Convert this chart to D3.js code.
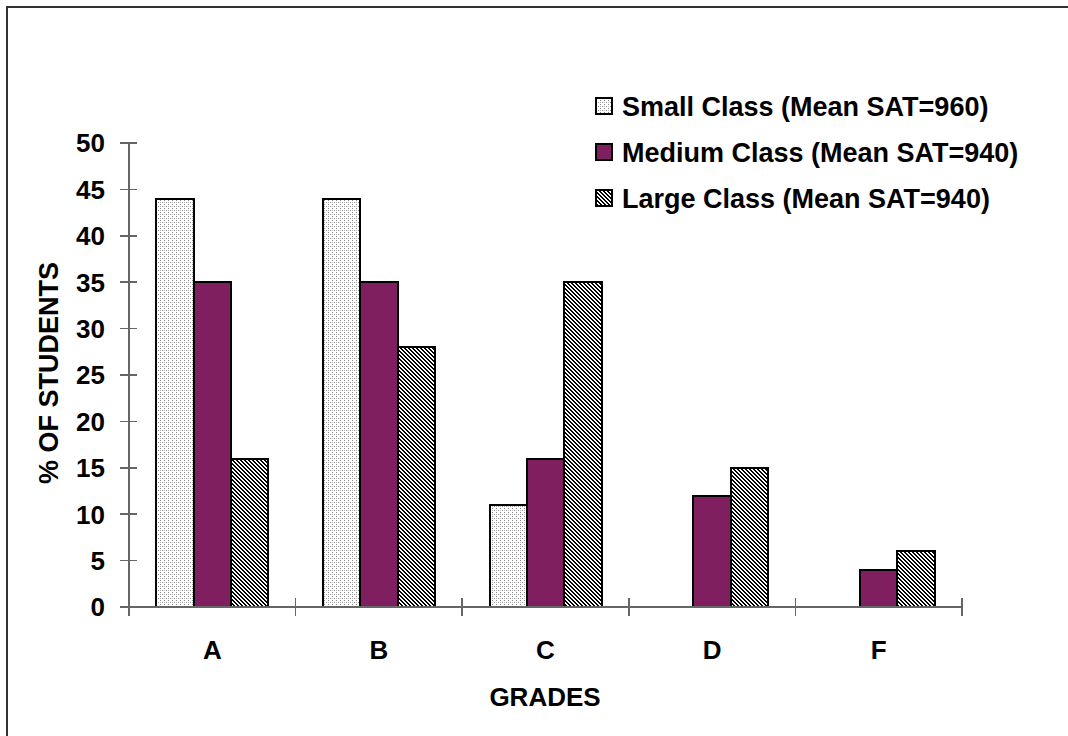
<!DOCTYPE html>
<html><head><meta charset="utf-8">
<script src="https://cdn.jsdelivr.net/npm/d3@7"></script>
<style>
html,body{margin:0;padding:0;background:#fff;}
svg{display:block;font-family:"Liberation Sans",Arial,sans-serif;font-weight:bold;}
</style></head>
<body>
<svg id="c" width="1068" height="736" shape-rendering="crispEdges"></svg>
<script>
const categories = ["A","B","C","D","F"];
const seriesNames = ["Small Class (Mean SAT=960)","Medium Class (Mean SAT=940)","Large Class (Mean SAT=940)"];
const smallClass = [44,44,11,0,0];
const mediumClass = [35,35,16,12,4];
const largeClass = [16,28,35,15,6];
const yTicks = [0,5,10,15,20,25,30,35,40,45,50];

const series = [smallClass, mediumClass, largeClass];
const svg = d3.select("#c");
const defs = svg.append("defs");

// dotted pattern
const pd = defs.append("pattern").attr("id","dots").attr("patternUnits","userSpaceOnUse")
  .attr("width",4).attr("height",4);
pd.append("rect").attr("width",4).attr("height",4).attr("fill","#fff");
pd.append("rect").attr("x",0).attr("y",0).attr("width",1).attr("height",1).attr("fill","#888");
pd.append("rect").attr("x",2).attr("y",2).attr("width",1).attr("height",1).attr("fill","#999");
pd.append("rect").attr("x",0).attr("y",2).attr("width",1).attr("height",1).attr("fill","#bbb");

// diagonal stripes "\" drawn pixel by pixel
const ps = defs.append("pattern").attr("id","stripes").attr("patternUnits","userSpaceOnUse")
  .attr("width",4).attr("height",4);
ps.append("rect").attr("width",4).attr("height",4).attr("fill","#fff");
for (let i=0;i<4;i++) for (let j=0;j<4;j++) {
  if (((i - j + 4) % 4) < 2) ps.append("rect").attr("x",i).attr("y",j).attr("width",1).attr("height",1).attr("fill","#000");
}

const fills = ["url(#dots)","#7f1f5f","url(#stripes)"];

// outer frame
svg.append("rect").attr("x",7).attr("y",7).attr("width",1200).attr("height",900)
  .attr("fill","none").attr("stroke","#333").attr("stroke-width",2);

const x0 = 129, x1 = 962, yTop = 143, yBot = 607;
const x = d3.scaleBand().domain(categories).range([x0,x1]);
const y = d3.scaleLinear().domain([0,50]).range([yBot,yTop]);
const groupW = 112;
const xs = d3.scaleBand().domain(d3.range(3)).range([0,groupW]);

// bars
categories.forEach((c,i)=>{
  const gx = x(c) + (x.bandwidth()-groupW)/2;
  series.forEach((s,j)=>{
    if (s[i] <= 0) return;
    svg.append("rect")
      .attr("x", gx + xs(j)).attr("y", y(s[i]))
      .attr("width", xs.bandwidth()).attr("height", y(0)-y(s[i]))
      .attr("fill", fills[j]).attr("stroke","#000").attr("stroke-width",2);
  });
});

// y axis
const axCol = "#666";
svg.append("line").attr("x1",x0).attr("x2",x0).attr("y1",yTop).attr("y2",yBot+9)
  .attr("stroke",axCol).attr("stroke-width",1.5);
yTicks.forEach(t=>{
  svg.append("line").attr("x1",x0-9).attr("x2",x0+8).attr("y1",y(t)).attr("y2",y(t))
    .attr("stroke",axCol).attr("stroke-width",1.5);
  svg.append("text").attr("x",105).attr("y",y(t)).attr("dy","0.36em")
    .attr("text-anchor","end").attr("font-size",26).attr("shape-rendering","auto").text(t);
});
// x axis
svg.append("line").attr("x1",x0).attr("x2",x1).attr("y1",yBot).attr("y2",yBot)
  .attr("stroke",axCol).attr("stroke-width",1.5);
const bounds = categories.map(c=>x(c)).concat([x1]);
bounds.forEach(b=>{
  svg.append("line").attr("x1",b).attr("x2",b).attr("y1",yBot-9).attr("y2",yBot+9)
    .attr("stroke",axCol).attr("stroke-width",1.5);
});
categories.forEach(c=>{
  svg.append("text").attr("x",x(c)+x.bandwidth()/2).attr("y",650).attr("dy","0.36em")
    .attr("text-anchor","middle").attr("font-size",26).text(c);
});
svg.append("text").attr("x",545).attr("y",697).attr("dy","0.36em").attr("text-anchor","middle")
  .attr("font-size",26).text("GRADES");
svg.append("text").attr("transform","translate(48,373) rotate(-90)").attr("dy","0.36em")
  .attr("text-anchor","middle").attr("font-size",27).text("% OF STUDENTS");

// legend
const legY = [106,152,198];
seriesNames.forEach((n,j)=>{
  const ly = legY[j];
  svg.append("rect").attr("x",596).attr("y",ly-8).attr("width",16).attr("height",16)
    .attr("fill",fills[j]).attr("stroke","#000").attr("stroke-width",1.5);
  svg.append("text").attr("x",622).attr("y",ly).attr("dy","0.36em")
    .attr("font-size",27).text(n);
});
</script>
</body></html>
